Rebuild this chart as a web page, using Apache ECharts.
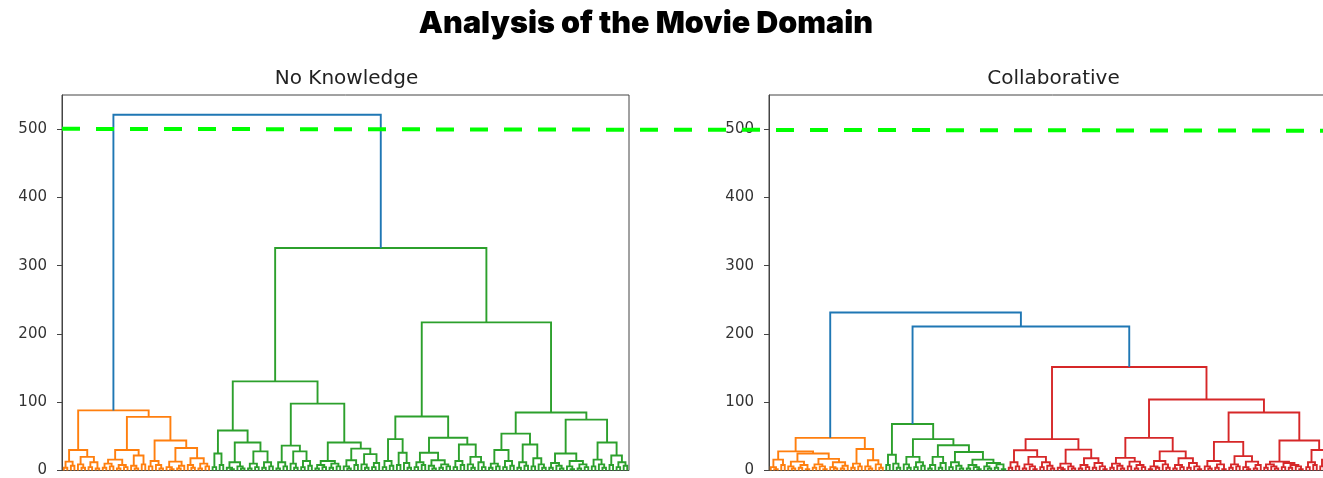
<!DOCTYPE html>
<html>
<head>
<meta charset="utf-8">
<title>Analysis of the Movie Domain</title>
<script src="https://cdn.jsdelivr.net/npm/echarts@6/dist/echarts.min.js"></script>
<style>
  html, body { margin: 0; padding: 0; background: #fff; overflow: hidden; }
  /* the right subplot runs past the window edge, as in the original */
  #chart { width: 1340px; height: 478px; }
</style>
</head>
<body>
<div id="chart"></div>
<script>
// merge trees: [height, left, right], a leaf is 0

// --- No Knowledge ---
const nkOrangeA = [30, [13, [4, 0, 0], [7, 0, 0]], [20, [9, 0, [4, 0, 0]], [12, [5, 0, 0], [3, 0, 0]]]]
const nkOrangeB1 = [30, [16, [10, [4, 0, 0], [6, 0, 0]], [8, [3, 0, 0], [5, 0, 0]]], [22, [7, 0, [3, 0, 0]], [9, 0, 0]]]
const nkOrangeB2 = [44, [14, [6, 0, 0], [8, 0, [3, 0, 0]]],
  [33, [13, [5, 0, [2, 0, 0]], [7, [3, 0, 0], 0]], [18, [8, 0, [4, 0, 0]], [10, [3, 0, 0], [6, 0, 0]]]]]
const nkOrange = [88, nkOrangeA, [78.5, nkOrangeB1, nkOrangeB2]]

const nkGreenG1a = [58.5, [25, [5, 0, 0], [8, 0, 0]],
  [41, [12, [4, 0, [2, 0, 0]], [6, 0, [3, 0, 0]]], [28, [10, [3, 0, 0], [5, 0, 0]], [12, [4, 0, 0], [6, 0, 0]]]]]
const nkGreenG1b = [98,
  [36.5, [12, [3, 0, 0], [6, 0, 0]], [28, [10, 0, [4, 0, 0]], [14, [5, 0, 0], [7, 0, 0]]]],
  [41, [14, [8, [3, 0, 0], [5, 0, 0]], [10, [4, 0, 0], [6, 0, 0]]],
    [32, [15, [6, 0, [3, 0, 0]], [8, 0, 0]], [24, [9, 0, [4, 0, 0]], [11, [5, 0, 0], 0]]]]]
const nkGreenG2a = [79,
  [46, [14, [5, 0, 0], [7, 0, 0]], [26, [8, 0, 0], [11, 0, [4, 0, 0]]]],
  [48, [26, [12, [5, 0, 0], [8, 0, 0]], [15, [7, 0, [3, 0, 0]], [9, [4, 0, 0], [6, 0, 0]]]],
    [38, [14, [5, 0, 0], [8, 0, 0]], [20, [9, 0, [4, 0, 0]], [12, 0, [5, 0, 0]]]]]]
const nkGreenG2b = [85,
  [54, [30, [10, [4, 0, 0], [6, 0, 0]], [14, [5, 0, 0], [7, 0, 0]]],
    [38, [12, [4, 0, 0], [7, 0, 0]], [18, [6, 0, 0], [9, 0, [4, 0, 0]]]]],
  [74.5, [25, [11, [4, 0, 0], [7, 0, [3, 0, 0]]], [14, [6, 0, [2, 0, 0]], [9, [3, 0, 0], [5, 0, 0]]]],
    [41, [16, [6, 0, 0], [9, 0, [4, 0, 0]]], [22, [8, 0, 0], [12, [5, 0, 0], [7, 0, 0]]]]]]
const nkGreen = [326, [130.5, nkGreenG1a, nkGreenG1b], [217, nkGreenG2a, nkGreenG2b]]
const noKnowledgeTree = [521, nkOrange, nkGreen]

// --- Collaborative ---
const coOrange = [47.8,
  [28, [16, [5, 0, [2, 0, 0]], [8, 0, 0]],
    [25, [13, [6, 0, [3, 0, 0]], [8, [4, 0, 0], [2, 0, 0]]],
      [17, [9, [4, 0, 0], [6, 0, [2, 0, 0]]], [12, [5, 0, [3, 0, 0]], [7, [3, 0, 0], 0]]]]],
  [31.6, [10, [4, 0, 0], [6, 0, 0]], [15, [6, 0, [3, 0, 0]], [9, 0, [4, 0, 0]]]]]
const coGreen = [68, [23, [8, 0, 0], [10, 0, [4, 0, 0]]],
  [46, [20, [9, 0, [4, 0, 0]], [12, [5, 0, 0], [7, 0, 0]]],
    [37, [20, [8, [3, 0, 0], 0], [11, [4, 0, 0], 0]],
      [27, [12, [5, 0, 0], [7, 0, [3, 0, 0]]],
        [16, [8, [3, 0, 0], [5, 0, [2, 0, 0]]], [11, [6, 0, [3, 0, 0]], [9, [4, 0, 0], [2, 0, 0]]]]]]]]
const coRedR1 = [46,
  [29.7, [12, [4, 0, 0], [6, 0, 0]], [20, [9, [3, 0, 0], [6, 0, [2, 0, 0]]], [12, [5, 0, 0], [7, 0, [3, 0, 0]]]]],
  [30.6, [10, [4, 0, [2, 0, 0]], [6, 0, [3, 0, 0]]], [18, [8, [3, 0, 0], [5, 0, 0]], [11, [4, 0, 0], [6, 0, [2, 0, 0]]]]]]
const coRedR2a = [47.8,
  [18.5, [10, [4, 0, 0], [7, 0, [3, 0, 0]]], [13, [6, 0, 0], [8, [3, 0, 0], [5, 0, 0]]]],
  [28, [14, [6, [2, 0, 0], [4, 0, 0]], [9, 0, [4, 0, 0]]], [18, [8, [3, 0, 0], [5, 0, 0]], [11, [4, 0, 0], [6, 0, [2, 0, 0]]]]]]
const coRedR2b = [85,
  [42, [14, [6, 0, [3, 0, 0]], [9, [4, 0, 0], [2, 0, 0]]],
    [21, [9, [4, 0, 0], [6, 0, 0]], [13, [5, 0, [2, 0, 0]], [8, [3, 0, 0], 0]]]],
  [44, [13, [9, [4, 0, 0], [6, 0, [3, 0, 0]]], [11, [5, 0, 0], [8, [4, 0, 0], [6, 0, [2, 0, 0]]]]],
    [30, [12, [5, 0, 0], [8, 0, 0]], [16, [6, 0, 0], [9, [4, 0, 0], 0]]]]]
const coRed = [151.6, coRedR1, [104, coRedR2a, coRedR2b]]
const collaborativeTree = [231.5, coOrange, [211, coGreen, coRed]]

const subplotTitles = ['No Knowledge', 'Collaborative']
const yTicks = [0, 100, 200, 300, 400, 500]
const cutLine = [500.5, 497.8]   // dashed cut, value at left and right end

const clusterColors = ['#ff7f0e', '#2ca02c', '#d62728', '#9467bd']
const aboveColor = '#1f77b4'

// like scipy: leaves at 5, 15, 25 ... and colours under 0.7 * max height
function buildLinks(tree) {
  const links = []
  let leaf = 0
  let colorIdx = 0
  const threshold = 0.7 * tree[0]
  function walk(node, color) {
    if (node === 0) {
      return { x: 5 + 10 * leaf++, h: 0 }
    }
    let c = color
    if (!c && node[0] < threshold) c = clusterColors[colorIdx++]
    const a = walk(node[1], c)
    const b = walk(node[2], c)
    links.push({ value: [a.x, b.x, a.h, b.h, node[0]], color: c || aboveColor })
    return { x: (a.x + b.x) / 2, h: node[0] }
  }
  walk(tree, null)
  return { links, leaves: leaf }
}

const left = buildLinks(noKnowledgeTree)
const right = buildLinks(collaborativeTree)

const chart = echarts.init(document.getElementById('chart'))

function dendroSeries(built, idx) {
  return {
    type: 'custom',
    xAxisIndex: idx,
    yAxisIndex: idx,
    encode: { x: [0, 1], y: [2, 3, 4] },
    data: built.links,
    clip: false,
    renderItem: function (params, api) {
      const p1 = api.coord([api.value(0), api.value(2)])
      const p2 = api.coord([api.value(0), api.value(4)])
      const p3 = api.coord([api.value(1), api.value(4)])
      const p4 = api.coord([api.value(1), api.value(3)])
      return {
        type: 'polyline',
        shape: { points: [p1, p2, p3, p4] },
        style: { stroke: built.links[params.dataIndex].color, fill: null, lineWidth: 1.9 }
      }
    }
  }
}

const gridH = 376
const gridW = 567
const lefts = [62, 769]

const yAxisBase = {
  type: 'value',
  min: 0,
  max: 550,
  axisLine: { show: true, lineStyle: { color: '#444', width: 1 } },
  axisTick: { show: true, length: 5, customValues: yTicks, lineStyle: { color: '#444' } },
  axisLabel: {
    margin: 15,
    color: '#333',
    fontSize: 15,
    fontFamily: 'DejaVu Sans',
    customValues: yTicks
  },
  splitLine: { show: false }
}

const option = {
  animation: false,
  backgroundColor: '#fff',
  title: [
    {
      text: 'Analysis of the Movie Domain',
      left: 641,
      textAlign: 'center',
      top: 3,
      textStyle: { fontFamily: 'Inter', fontWeight: 900, fontSize: 30.5, color: '#000' }
    },
    ...subplotTitles.map((t, i) => ({
      text: t,
      left: lefts[i] + gridW / 2 - 4,
      textAlign: 'center',
      top: 64,
      textStyle: { fontFamily: 'DejaVu Sans', fontWeight: 'normal', fontSize: 20, color: '#222' }
    }))
  ],
  grid: [
    { left: lefts[0], top: 95, width: gridW, height: gridH, show: true, borderColor: '#444', borderWidth: 1 },
    { left: lefts[1], top: 95, width: gridW, height: gridH, show: true, borderColor: '#444', borderWidth: 1 },
    { left: lefts[0], top: 95, width: 1323 - lefts[0], height: gridH }
  ],
  xAxis: [
    { gridIndex: 0, type: 'value', min: 0, max: left.leaves * 10, show: false },
    { gridIndex: 1, type: 'value', min: 0, max: right.leaves * 10, show: false },
    { gridIndex: 2, type: 'value', min: 0, max: 1, show: false }
  ],
  yAxis: [
    Object.assign({ gridIndex: 0 }, yAxisBase),
    Object.assign({ gridIndex: 1 }, yAxisBase),
    { gridIndex: 2, type: 'value', min: 0, max: 550, show: false }
  ],
  series: [
    dendroSeries(left, 0),
    dendroSeries(right, 1),
    {
      type: 'line',
      xAxisIndex: 2,
      yAxisIndex: 2,
      data: [[0, cutLine[0]], [1, cutLine[1]]],
      symbol: 'none',
      z: 10,
      lineStyle: { color: '#00ff00', width: 4, type: [18, 16] }
    }
  ]
}

chart.setOption(option)
</script>
</body>
</html>
